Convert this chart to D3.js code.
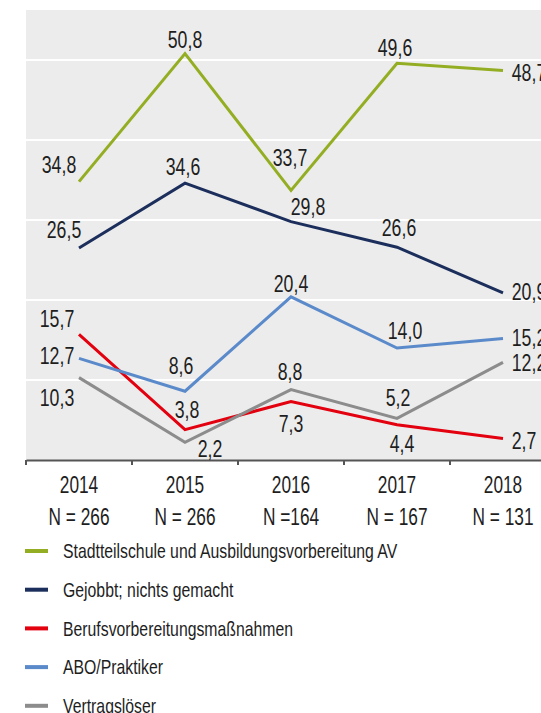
<!DOCTYPE html>
<html>
<head>
<meta charset="utf-8">
<script src="https://cdn.jsdelivr.net/npm/d3@7"></script>
<style>
  body { margin: 0; background: #fff; }
  text { font-family: "Liberation Sans", Arial, sans-serif; fill: #1e1e1e; }
</style>
</head>
<body>
<div id="chart"></div>
<script>
const years = ["2014", "2015", "2016", "2017", "2018"];
const nLabels = ["N = 266", "N = 266", "N =164", "N = 167", "N = 131"];
const seriesNames = [
    "Stadtteilschule und Ausbildungsvorbereitung AV",
    "Gejobbt; nichts gemacht",
    "Berufsvorbereitungsmaßnahmen",
    "ABO/Praktiker",
    "Vertragslöser"
];
const stadtteilschule = [34.8, 50.8, 33.7, 49.6, 48.7];
const gejobbt = [26.5, 34.6, 29.8, 26.6, 20.9];
const berufsvorbereitung = [15.7, 3.8, 7.3, 4.4, 2.7];
const abo = [12.7, 8.6, 20.4, 14.0, 15.2];
const vertragsloeser = [10.3, 2.2, 8.8, 5.2, 12.2];
const yTicks = [10, 20, 30, 40, 50];

const colors = ["#93ae22", "#1c2f5c", "#e3000f", "#5b8acb", "#8c8c8c"];

// label offsets (dx, dy) from each point
const labelOffsets = [
    [[-20, -17], [0, -14], [-1, -33], [-2, -15], [26, 2]],
    [[-15, -18], [-2, -16], [17, -15], [2, -19], [26, -1]],
    [[-22, -16], [2, -20], [0, 22], [5, 19], [21, 2]],
    [[-22, -3], [-4, -25], [0, -13], [8, -17], [26, -1]],
    [[-22, 20], [25, 6], [-1, -18], [1, -21], [26, 0]]
];

const allSeries = [stadtteilschule, gejobbt, berufsvorbereitung, abo, vertragsloeser];

const width = 541;
const height = 713;
const plot = { left: 26, top: 10, right: 556, bottom: 460 };

const svg = d3.select("#chart").append("svg")
    .attr("width", width)
    .attr("height", height);

const x = d3.scaleBand()
    .domain(years)
    .range([plot.left, plot.right]);

const y = d3.scaleLinear()
    .domain([0, 56.25])
    .range([plot.bottom, plot.top]);

// condensed look: squeeze text horizontally
function place(sel, fx, fy, k) {
    sel.attr("transform", (d, i) => `translate(${fx(d, i)},${fy(d, i)}) scale(${k},1)`);
}

// background
svg.append("rect")
    .attr("x", plot.left)
    .attr("y", plot.top)
    .attr("width", width - plot.left)
    .attr("height", plot.bottom - plot.top)
    .attr("fill", "#ececec");

// gridlines
svg.selectAll(".grid")
    .data(yTicks)
    .enter().append("line")
    .attr("x1", plot.left)
    .attr("x2", width)
    .attr("y1", d => y(d))
    .attr("y2", d => y(d))
    .attr("stroke", "#fff")
    .attr("stroke-width", 2);

// x axis
const xAxis = svg.append("g")
    .attr("transform", `translate(0,${plot.bottom})`)
    .call(d3.axisBottom(x).tickSize(0).tickFormat(""));
xAxis.select(".domain").attr("stroke", "#555").attr("stroke-width", 2);

svg.selectAll(".tick-mark")
    .data(years)
    .enter().append("line")
    .attr("x1", d => x(d))
    .attr("x2", d => x(d))
    .attr("y1", plot.bottom)
    .attr("y2", plot.bottom + 5)
    .attr("stroke", "#555")
    .attr("stroke-width", 2);

const cx = d => x(d) + x.bandwidth() / 2;

svg.selectAll(".xyear")
    .data(years)
    .enter().append("text")
    .attr("text-anchor", "middle")
    .attr("font-size", 24)
    .call(place, d => cx(d), () => 493, 0.72)
    .text(d => d);

svg.selectAll(".xn")
    .data(years)
    .enter().append("text")
    .attr("text-anchor", "middle")
    .attr("font-size", 24)
    .call(place, d => cx(d), () => 525, 0.72)
    .text((d, i) => nLabels[i]);

const line = d3.line()
    .x((d, i) => cx(years[i]))
    .y(d => y(d));

allSeries.forEach(function(values, s) {
    svg.append("path")
        .datum(values)
        .attr("fill", "none")
        .attr("stroke", colors[s])
        .attr("stroke-width", 3)
        .attr("stroke-linejoin", "miter")
        .attr("d", line);

    svg.selectAll(".lbl" + s)
        .data(values)
        .enter().append("text")
        .attr("dy", "0.36em")
        .attr("text-anchor", "middle")
        .attr("font-size", 23)
        .call(place,
            (d, i) => cx(years[i]) + labelOffsets[s][i][0],
            (d, i) => y(d) + labelOffsets[s][i][1], 0.77)
        .text(d => d3.format(".1f")(d).replace(".", ","));
});

// legend
const legend = svg.selectAll(".legend")
    .data(seriesNames)
    .enter().append("g")
    .attr("transform", (d, i) => `translate(25,${551 + i * 38.7})`);

legend.append("rect")
    .attr("x", 0)
    .attr("y", -2)
    .attr("width", 23)
    .attr("height", 4)
    .attr("fill", (d, i) => colors[i]);

legend.append("text")
    .attr("dy", "0.36em")
    .attr("font-size", 20)
    .call(place, () => 38, () => 0, 0.79)
    .text(d => d);
</script>
</body>
</html>
